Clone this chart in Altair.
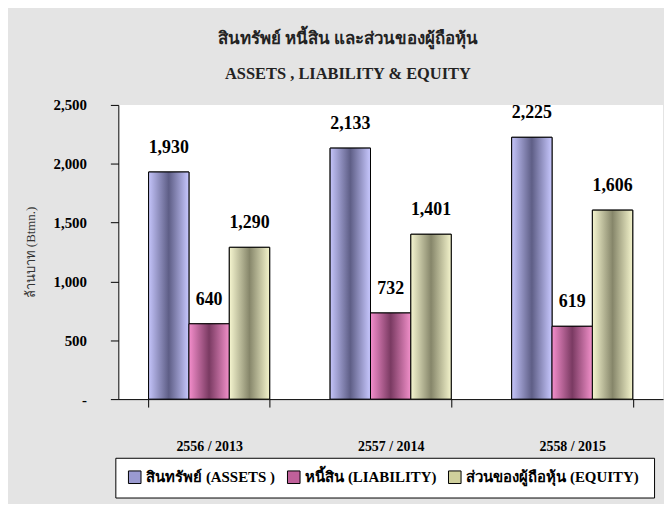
import altair as alt
import pandas as pd

years = ["2556 / 2013", "2557 / 2014", "2558 / 2015"]
series = ["สินทรัพย์ (ASSETS )", "หนี้สิน (LIABILITY)", "ส่วนของผู้ถือหุ้น  (EQUITY)"]
assets = [1930, 2133, 2225]
liability = [640, 732, 619]
equity = [1290, 1401, 1606]
y_ticks = [0, 500, 1000, 1500, 2000, 2500]

solid = ["#9a9ad0", "#c0609a", "#cfcf9c"]
grads = [
    ["#c4c4fa", "#5e5e86", "#c8c8ff"],
    ["#f48ecc", "#7a3a62", "#f290ca"],
    ["#f6f6d0", "#86866a", "#f4f4cc"],
]

rows = []
for i, y in enumerate(years):
    for s, vals in zip(series, [assets, liability, equity]):
        rows.append({"year": y, "series": s, "value": vals[i]})
df = pd.DataFrame(rows)

serif = "Liberation Serif"

x_enc = alt.X("year:N", sort=years, title=None,
              scale=alt.Scale(paddingInner=0.333, paddingOuter=0.1667),
              axis=alt.Axis(labelAngle=0, labelFont=serif, labelFontWeight="bold",
                            labelFontSize=14, labelColor="black", domainColor="black",
                            tickColor="black", tickSize=8, tickBand="extent",
                            labelPadding=33))
xo_enc = alt.XOffset("series:N", sort=series, scale=alt.Scale(domain=series))
y_enc = alt.Y("value:Q", title="ล้านบาท (Btmn.)",
              scale=alt.Scale(domain=[0, 2500], nice=False),
              axis=alt.Axis(values=y_ticks, grid=False,
                            labelExpr="datum.value == 0 ? '-   ' : format(datum.value, ',')",
                            labelFont=serif, labelFontWeight="bold", labelFontSize=15,
                            labelColor="black", domainColor="black", tickColor="black",
                            tickSize=8, labelPadding=24, titleFont=serif,
                            titleFontWeight="normal", titleFontSize=13, titleColor="#333333",
                            titlePadding=16))

base = alt.Chart(df).encode(x=x_enc, xOffset=xo_enc, y=y_enc)

legend_bars = base.mark_bar(stroke="black", strokeWidth=1).encode(
    color=alt.Color("series:N", sort=series,
                    scale=alt.Scale(domain=series, range=solid),
                    legend=alt.Legend(title=None, orient="none", direction="horizontal",
                                      legendX=-3, legendY=355, strokeColor="black",
                                      fillColor="white", padding=12, symbolType="square",
                                      symbolSize=160, symbolStrokeColor="black",
                                      symbolStrokeWidth=1, labelFont=serif,
                                      labelFontWeight="bold", labelFontSize=15,
                                      labelColor="black", columnPadding=10,
                                      labelLimit=400, symbolOpacity=1)))

layers = [legend_bars]
for s, g in zip(series, grads):
    grad = alt.Gradient(gradient="linear", x1=0, x2=1, y1=0, y2=0,
                        stops=[alt.GradientStop(offset=0, color=g[0]),
                               alt.GradientStop(offset=0.5, color=g[1]),
                               alt.GradientStop(offset=1, color=g[2])])
    layers.append(base.transform_filter(alt.datum.series == s)
                  .mark_bar(fill=grad, stroke="black", strokeWidth=1))

labels = base.mark_text(font=serif, fontWeight="bold", fontSize=18, color="black",
                        baseline="alphabetic", dy=-19).encode(
    text=alt.Text("value:Q", format=",.0f"))
layers.append(labels)

chart = alt.layer(*layers).properties(
    width=548, height=296,
    title=alt.TitleParams(text="สินทรัพย์ หนี้สิน และส่วนของผู้ถือหุ้น",
                          subtitle="ASSETS , LIABILITY & EQUITY",
                          anchor="middle", dx=-43, offset=15,
                          font="Noto Sans", fontSize=17, fontWeight="bold", color="#222222",
                          subtitleFont=serif, subtitleFontSize=16.5,
                          subtitleFontWeight="bold", subtitleColor="#222222",
                          subtitlePadding=18),
    autosize=alt.AutoSizeParams(type="none"),
    padding={"left": 111, "top": 96, "right": 1, "bottom": 104},
).configure(background="#e4e4e4").configure_view(fill="white", stroke=None)

chart.save("out.html", embed_options={"renderer": "svg", "actions": False})
